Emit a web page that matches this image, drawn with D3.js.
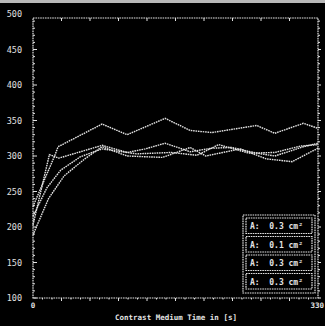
<!DOCTYPE html>
<html>
<head>
<meta charset="utf-8">
<script src="https://cdn.jsdelivr.net/npm/d3@7"></script>
<style>
  body { margin: 0; background: #000; }
  svg { display: block; }
  .lbl { fill: #e4e4e4; font-family: 'DejaVu Sans Mono', monospace; font-weight: bold; }
  .ylbl { fill: #e0e0e0; font-family: 'DejaVu Sans Mono', monospace; }
</style>
</head>
<body>
<div id="chart"></div>
<script>
// tick labels
const yTicks = [100, 150, 200, 250, 300, 350, 400, 450, 500];
const xLabels = ['0', '330'];
const xTitle = 'Contrast Medium Time in [s]';

// series (time in s, value)
const legendNames = ['A:  0.3 cm\u00b2', 'A:  0.1 cm\u00b2', 'A:  0.3 cm\u00b2', 'A:  0.3 cm\u00b2'];
const t1 = [0, 25, 29, 80, 109, 153, 182, 207, 259, 280, 313, 330];
const v1 = [229, 300, 313, 345, 330, 353, 336, 333, 343, 332, 346, 339];
const t2 = [0, 19, 30, 80, 109, 130, 153, 182, 207, 230, 259, 280, 313, 330];
const v2 = [203, 302, 297, 315, 305, 310, 318, 306, 311, 312, 304, 300, 313, 318];
const t3 = [0, 18, 36, 60, 80, 109, 150, 182, 200, 240, 270, 300, 330];
const v3 = [189, 240, 272, 296, 313, 300, 298, 312, 300, 310, 296, 292, 311];
const t4 = [0, 16, 32, 55, 80, 120, 160, 190, 215, 250, 280, 310, 330];
const v4 = [215, 255, 280, 299, 310, 303, 305, 301, 316, 304, 305, 314, 316];

const width = 325, height = 326;
const margin = { top: 18, right: 7, bottom: 28, left: 33 };

const x = d3.scaleLinear().domain([0, 330]).range([margin.left, width - margin.right]);
const y = d3.scaleLinear().domain([100, 500]).range([height - margin.bottom, 14]);

const svg = d3.select('#chart').append('svg')
  .attr('width', width)
  .attr('height', height);

svg.append('rect').attr('width', width).attr('height', height).attr('fill', '#000');
// light scan edge at top
svg.append('rect').attr('width', width).attr('height', 3).attr('fill', '#b8b8b8');

const ink = '#e2e2e2';
const dash = '1.6,0.8';

// frame
const fx0 = x(0), fx1 = x(330), fy0 = margin.top, fy1 = y(100);
svg.append('rect')
  .attr('x', fx0).attr('y', fy0)
  .attr('width', fx1 - fx0).attr('height', fy1 - fy0)
  .attr('fill', 'none').attr('stroke', ink).attr('stroke-width', 1.2)
  .attr('stroke-dasharray', dash);

// left axis ticks (minor every 10, major every 50)
const yMinor = d3.range(100, 501, 10).filter(v => y(v) >= fy0);
svg.append('g').selectAll('line').data(yMinor).join('line')
  .attr('x1', fx0).attr('x2', d => fx0 + (d % 50 === 0 ? 4 : 2))
  .attr('y1', d => y(d)).attr('y2', d => y(d))
  .attr('stroke', ink).attr('stroke-width', 1);
// right axis ticks
svg.append('g').selectAll('line').data(yMinor).join('line')
  .attr('x1', fx1).attr('x2', d => fx1 + (d % 50 === 0 ? 3 : 2))
  .attr('y1', d => y(d)).attr('y2', d => y(d))
  .attr('stroke', ink).attr('stroke-width', 1);

// x ticks top and bottom
const xMajor = d3.range(33, 330, 33);
const xMinor = d3.range(11, 330, 11);
svg.append('g').selectAll('line').data(xMajor).join('line')
  .attr('x1', d => x(d)).attr('x2', d => x(d))
  .attr('y1', fy0).attr('y2', fy0 + 3)
  .attr('stroke', ink).attr('stroke-width', 1);
svg.append('g').selectAll('line').data(xMinor).join('line')
  .attr('x1', d => x(d)).attr('x2', d => x(d))
  .attr('y1', fy1).attr('y2', d => fy1 + (d % 33 === 0 ? 3 : 1.5))
  .attr('stroke', ink).attr('stroke-width', 1);

// y labels
svg.append('g').selectAll('text').data(yTicks).join('text')
  .attr('class', 'ylbl')
  .attr('x', 22).attr('y', d => y(d) + 3)
  .attr('text-anchor', 'end')
  .attr('font-size', 8.5)
  .text(d => d);

// x labels
svg.append('g').selectAll('text').data(xLabels).join('text')
  .attr('class', 'lbl')
  .attr('x', d => (+d === 0 ? x(0) : width - 1))
  .attr('y', fy1 + 10)
  .attr('text-anchor', d => (+d === 0 ? 'middle' : 'end'))
  .attr('font-size', 7.5)
  .text(d => d);

svg.append('text')
  .attr('class', 'lbl')
  .attr('x', 176).attr('y', 320)
  .attr('text-anchor', 'middle')
  .attr('font-size', 7.5)
  .text(xTitle);

// series lines
const line = d3.line().x(d => x(d[0])).y(d => y(d[1]));
const series = [[t1, v1], [t2, v2], [t3, v3], [t4, v4]];
series.forEach(([t, v]) => {
  svg.append('path')
    .datum(t.map((d, i) => [d, v[i]]))
    .attr('d', line)
    .attr('fill', 'none')
    .attr('stroke', ink)
    .attr('stroke-width', 1.4)
    .attr('stroke-dasharray', dash);
});

// legend
const lg = svg.append('g').attr('transform', 'translate(243, 215)');
const rowH = 18.5;
lg.append('rect')
  .attr('x', 0).attr('y', 0)
  .attr('width', 72).attr('height', rowH * legendNames.length + 4)
  .attr('fill', '#000').attr('stroke', ink).attr('stroke-width', 1.2)
  .attr('stroke-dasharray', dash);
legendNames.forEach((name, i) => {
  lg.append('rect')
    .attr('x', 3).attr('y', 3 + i * rowH)
    .attr('width', 66).attr('height', rowH - 3)
    .attr('fill', 'none').attr('stroke', ink).attr('stroke-width', 1.2)
    .attr('stroke-dasharray', dash);
  lg.append('text')
    .attr('class', 'lbl')
    .attr('x', 7).attr('y', 14 + i * rowH)
    .attr('font-size', 8)
    .attr('xml:space', 'preserve')
    .style('white-space', 'pre')
    .text(name);
});
</script>
</body>
</html>
